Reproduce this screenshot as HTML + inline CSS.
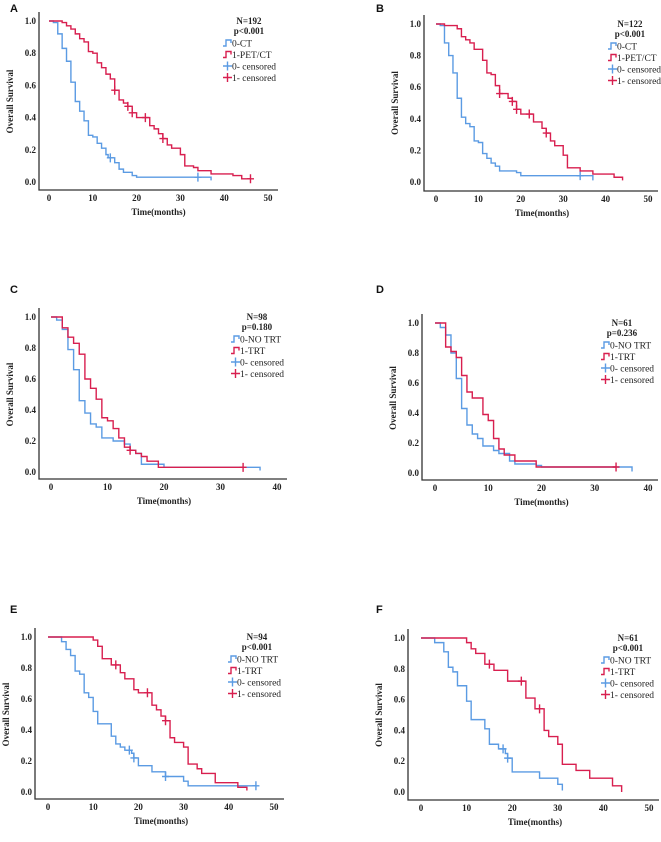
<!DOCTYPE html>
<html><head><meta charset="utf-8"><style>
html,body{margin:0;padding:0;background:#fff;}
svg text{font-family:"Liberation Serif",serif;font-weight:bold;fill:#222;}
</style></head><body>
<svg id="fig" width="661" height="837" viewBox="0 0 661 837" xmlns="http://www.w3.org/2000/svg"></svg>
<script>
// ---- Data (times in months, survival after each event) ----
const aBlueT=[1,2,3,4,5,6,7,8,9,10,11,12,13,13.5,15,16,17,19,20,37];
const aBlueS=[0.99,0.92,0.83,0.75,0.62,0.50,0.44,0.38,0.29,0.28,0.24,0.21,0.17,0.15,0.12,0.08,0.06,0.04,0.03,0.01];
const aBlueC=[14,34];
const aRedT=[3,4,5,6,7,8,9,10,11,12,13,14,15,16,17,18,19,20,23,24,25,26,27,28,30,31,33,34,37,42,44];
const aRedS=[0.99,0.97,0.95,0.92,0.89,0.87,0.81,0.80,0.74,0.71,0.67,0.64,0.57,0.51,0.49,0.47,0.43,0.40,0.35,0.33,0.30,0.27,0.23,0.21,0.17,0.10,0.09,0.07,0.05,0.04,0.02];
const aRedC=[15,18,19,22,26,46];
const aEnd=[37,46];

const bBlueT=[1,2,3,4,5,6,7,8,9,10,11,12,13,14,15,19,20,37];
const bBlueS=[0.99,0.88,0.80,0.69,0.53,0.41,0.37,0.35,0.26,0.25,0.18,0.15,0.12,0.10,0.07,0.06,0.04,0.01];
const bBlueC=[34];
const bRedT=[2,5,6,7,8,9,11,12,13,14,15,17,18,19,20,23,25,26,27,28,30,31,34,37,42,44];
const bRedS=[0.99,0.97,0.92,0.90,0.88,0.84,0.77,0.69,0.68,0.61,0.56,0.53,0.51,0.46,0.43,0.38,0.34,0.31,0.26,0.23,0.17,0.09,0.07,0.05,0.03,0.01];
const bRedC=[15,18,19,22,26];
const bEnd=[37,44];

const cBlueT=[1,2,3,4,5,6,7,8,9,11,13,14,15,16,20,37];
const cBlueS=[0.98,0.92,0.79,0.66,0.46,0.38,0.31,0.29,0.22,0.20,0.18,0.14,0.12,0.05,0.03,0.01];
const cBlueC=[];
const cRedT=[2,3,4,5,6,7,8,9,10,11,12,13,14,15,16,17,19];
const cRedS=[0.93,0.87,0.83,0.76,0.60,0.54,0.47,0.35,0.33,0.28,0.22,0.16,0.14,0.12,0.10,0.07,0.03];
const cRedC=[14,34];
const cEnd=[37,34];

const dBlueT=[1,2,3,4,5,6,7,8,9,11,12,14,15,19,20,37];
const dBlueS=[0.97,0.92,0.80,0.63,0.43,0.32,0.26,0.23,0.18,0.15,0.13,0.08,0.06,0.05,0.04,0.01];
const dBlueC=[];
const dRedT=[2,3,4,5,6,7,9,10,11,12,13,15,19];
const dRedS=[0.84,0.81,0.77,0.65,0.54,0.50,0.39,0.35,0.23,0.16,0.12,0.08,0.04];
const dRedC=[34];
const dEnd=[37,34];

const eBlueT=[3,4,5,6,7,8,9,10,11,14,15,16,17,18.5,19,20,23,26,30,31];
const eBlueS=[0.97,0.92,0.88,0.78,0.76,0.64,0.61,0.52,0.44,0.36,0.31,0.29,0.27,0.25,0.22,0.17,0.13,0.10,0.07,0.04];
const eBlueC=[18,19,26,46];
const eRedT=[10,11,12,14,16,17,19,20,23,24,25,26,27,28,30,31,33,34,37,42,44];
const eRedS=[0.98,0.94,0.86,0.82,0.77,0.73,0.66,0.64,0.56,0.53,0.49,0.46,0.35,0.32,0.29,0.18,0.15,0.12,0.06,0.03,0.01];
const eRedC=[15,22,26];
const eEnd=[46,44];

const fBlueT=[3,5,6,7,8,10,11,14,15,17,18.5,19,20,26,30,31];
const fBlueS=[0.97,0.91,0.81,0.78,0.69,0.59,0.47,0.41,0.31,0.28,0.25,0.22,0.13,0.09,0.05,0.01];
const fBlueC=[18,19];
const fRedT=[10,11,12,14,16,19,23,25,27,28,30,31,34,37,42,44];
const fRedS=[0.97,0.93,0.90,0.83,0.79,0.72,0.61,0.54,0.40,0.36,0.31,0.18,0.14,0.09,0.04,0.0];
const fRedC=[15,22,26];
const fEnd=[31,44];

const xTicksA=[0,10,20,30,40,50];
const xTicksC=[0,10,20,30,40];
const yTicks=[0,0.2,0.4,0.6,0.8,1.0];

const labelsA=["0-CT","1-PET/CT","0- censored","1- censored"];
const labelsC=["0-NO TRT","1-TRT","0- censored","1- censored"];

// ---- Layout (geometry only) ----
const panels=[
 {id:"a",L:"A",lx:10,ly:12,ax:39,ay:190,x0:49,xm:268,xmax:50,y1:21,y0:182,ticks:xTicksA,N:"N=192",p:"p<0.001",nx:249,ix:223,labels:labelsA,
  bt:aBlueT,bs:aBlueS,bc:aBlueC,rt:aRedT,rs:aRedS,rc:aRedC,end:aEnd},
 {id:"b",L:"B",lx:376,ly:12,ax:424,ay:191,x0:436,xm:648,xmax:50,y1:24,y0:182,ticks:xTicksA,N:"N=122",p:"p<0.001",nx:630,ix:608,labels:labelsA,
  bt:bBlueT,bs:bBlueS,bc:bBlueC,rt:bRedT,rs:bRedS,rc:bRedC,end:bEnd},
 {id:"c",L:"C",lx:10,ly:293,ax:39,ay:479,x0:51,xm:277,xmax:40,y1:317,y0:472,ticks:xTicksC,N:"N=98",p:"p=0.180",nx:257,ix:231,labels:labelsC,
  bt:cBlueT,bs:cBlueS,bc:cBlueC,rt:cRedT,rs:cRedS,rc:cRedC,end:cEnd},
 {id:"d",L:"D",lx:376,ly:293,ax:422,ay:480,x0:435,xm:648,xmax:40,y1:323,y0:473,ticks:xTicksC,N:"N=61",p:"p=0.236",nx:622,ix:601,labels:labelsC,
  bt:dBlueT,bs:dBlueS,bc:dBlueC,rt:dRedT,rs:dRedS,rc:dRedC,end:dEnd},
 {id:"e",L:"E",lx:10,ly:613,ax:35,ay:799,x0:48,xm:274,xmax:50,y1:637,y0:792,ticks:xTicksA,N:"N=94",p:"p<0.001",nx:257,ix:228,labels:labelsC,
  bt:eBlueT,bs:eBlueS,bc:eBlueC,rt:eRedT,rs:eRedS,rc:eRedC,end:eEnd},
 {id:"f",L:"F",lx:376,ly:613,ax:408,ay:800,x0:421,xm:649,xmax:50,y1:638,y0:792,ticks:xTicksA,N:"N=61",p:"p<0.001",nx:628,ix:601,labels:labelsC,
  bt:fBlueT,bs:fBlueS,bc:fBlueC,rt:fRedT,rs:fRedS,rc:fRedC,end:fEnd}
];
const BLUE="#5b9be3",RED="#d81f4f";
const NS="http://www.w3.org/2000/svg";
const svg=document.getElementById("fig");
function mk(tag,attrs,parent){const e=document.createElementNS(NS,tag);for(const k in attrs)e.setAttribute(k,attrs[k]);(parent||svg).appendChild(e);return e;}
function txt(s,attrs,parent){const e=mk("text",attrs,parent);e.textContent=s;return e;}
function stepVal(T,S,t){let v=1;for(let i=0;i<T.length;i++){if(T[i]<=t)v=S[i];}return v;}

panels.forEach(P=>{
  const g=mk("g",{});
  
  
  const sx=t=>P.x0+(P.xm-P.x0)*t/P.xmax;
  const sy=v=>P.y0+(P.y1-P.y0)*v;
  const lab=txt(P.L,{x:P.lx,y:P.ly,"font-size":"11","style":"font-family:'Liberation Sans',sans-serif;font-weight:bold;fill:#111"},g);
  
  
  const ax=mk("path",{d:`M${P.ax},${P.y1-9}V${P.ay}H${P.xm+10}`,fill:"none",stroke:"#333","stroke-width":"1.3"},g);
  
  
  yTicks.forEach(v=>{
    const t=txt(v.toFixed(1),{x:P.ax-3,y:sy(v)+3,"font-size":"9","text-anchor":"end"},g);
    
    
  });
  P.ticks.forEach(v=>{
    const t=txt(String(v),{x:sx(v),y:P.ay+11,"font-size":"9","text-anchor":"middle"},g);
    
    
  });
  const cy=(P.y1+P.y0)/2, yl=P.ax-26;
  const ylab=txt("Overall Survival",{x:yl,y:cy,"font-size":"9","text-anchor":"middle",transform:`rotate(-90 ${yl} ${cy})`},g);
  
  
  const xlab=txt("Time(months)",{x:(P.x0+P.xm)/2,y:P.ay+25,"font-size":"9","text-anchor":"middle"},g);
  
  
  [[P.bt,P.bs,P.bc,BLUE,P.end[0],"blue"],[P.rt,P.rs,P.rc,RED,P.end[1],"red"]].forEach(([T,S,C,col,end,nm])=>{
    let d=`M${sx(0)},${sy(1)}`;
    for(let i=0;i<T.length;i++){d+=`H${sx(T[i])}V${sy(S[i])}`;}
    if(end>T[T.length-1])d+=`H${sx(end)}`;
    const path=mk("path",{d:d,fill:"none",stroke:col,"stroke-width":"1.4"},g);
    
    
    C.forEach(c=>{
      const x=sx(c),y=sy(stepVal(T,S,c));
      const m=mk("path",{d:`M${x-3.5},${y}H${x+3.5}M${x},${y-4.5}V${y+4.5}`,stroke:col,"stroke-width":"1.4"},g);
      
      
    });
  });
  const n=txt(P.N,{x:P.nx,y:P.y1+3,"font-size":"9","text-anchor":"middle"},g);
  
  
  const p=txt(P.p,{x:P.nx,y:P.y1+13,"font-size":"9","text-anchor":"middle"},g);
  
  
  P.labels.forEach((s,i)=>{
    const y=P.y1+22+i*11.5, col=(i%2==0)?BLUE:RED, x=P.ix;
    let d;
    if(i<2)d=`M${x},${y+3}H${x+3}V${y-3}H${x+8}V${y}`;
    else d=`M${x},${y}H${x+9}M${x+4.5},${y-4.5}V${y+4.5}`;
    const ic=mk("path",{d:d,fill:"none",stroke:col,"stroke-width":"1.4"},g);
    
    
    const t=txt(s,{x:x+9,y:y+3.5,"font-size":"9.5","style":"font-weight:normal"},g);
    
    
  });
});
</script>
</body></html>
